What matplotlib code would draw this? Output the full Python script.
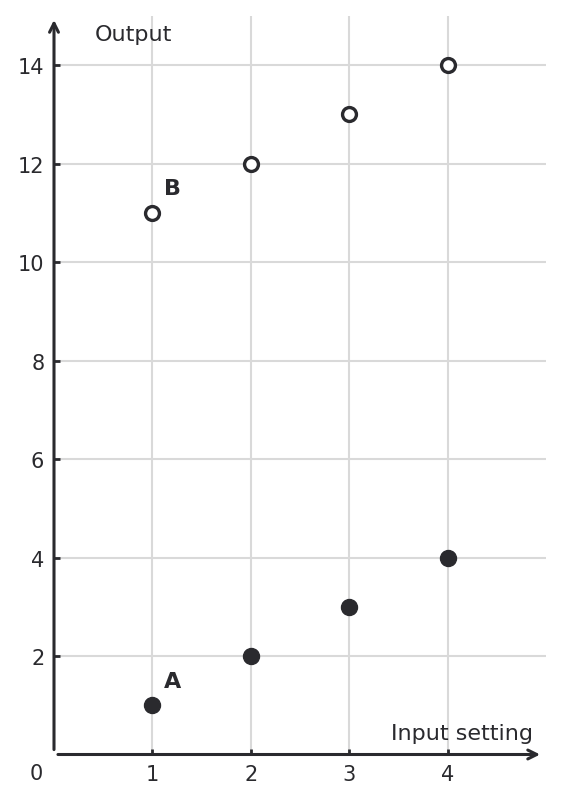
import matplotlib.pyplot as plt

inputs = [1, 2, 3, 4]
output_a = [1, 2, 3, 4]
output_b = [11, 12, 13, 14]
x_ticks = [1, 2, 3, 4]
y_ticks = [2, 4, 6, 8, 10, 12, 14]

dark = "#2a2a2e"
grid_c = "#d9d9d9"

fig = plt.figure(figsize=(5.63, 8.03), dpi=100)
ax = fig.add_axes([54 / 563, 47.5 / 803, 492 / 563, 738.5 / 803])
ax.set_xlim(0, 5.0)
ax.set_ylim(0, 15.0)

# grid
ax.set_xticks(x_ticks)
ax.set_yticks(y_ticks)
ax.grid(True, color=grid_c, lw=1.5)
ax.set_axisbelow(True)
for s in ax.spines.values():
    s.set_visible(False)
ax.tick_params(direction="in", length=4, width=2, color=dark, labelcolor=dark,
               labelsize=15, pad=7)

# arrow axes (they don't quite meet at the origin)
ax.annotate("", xy=(0, 14.92), xytext=(0, 0.1), xycoords="data",
            arrowprops=dict(arrowstyle="->", lw=2.2, color=dark,
                            mutation_scale=16, shrinkA=0, shrinkB=0))
ax.annotate("", xy=(4.94, 0), xytext=(0.04, 0), xycoords="data",
            arrowprops=dict(arrowstyle="->", lw=2.2, color=dark,
                            mutation_scale=16, shrinkA=0, shrinkB=0))

ax.plot(inputs, output_a, "o", ms=11.5, color=dark, zorder=3, clip_on=False)
ax.plot(inputs, output_b, "o", ms=10, mfc="white", mec=dark, mew=2.4,
        zorder=3, clip_on=False)

ax.text(1.12, 1.5, "A", fontsize=16, fontweight="bold", color=dark,
        va="center", ha="left")
ax.text(1.12, 11.5, "B", fontsize=16, fontweight="bold", color=dark,
        va="center", ha="left")
ax.text(0.41, 14.63, "Output", fontsize=16, color=dark, va="center", ha="left")
ax.text(4.87, 0.44, "Input setting", fontsize=16, color=dark,
        va="center", ha="right")
ax.text(-0.18, -0.37, "0", fontsize=15, color=dark, va="center", ha="center")

fig.savefig("out.png", dpi=100)
